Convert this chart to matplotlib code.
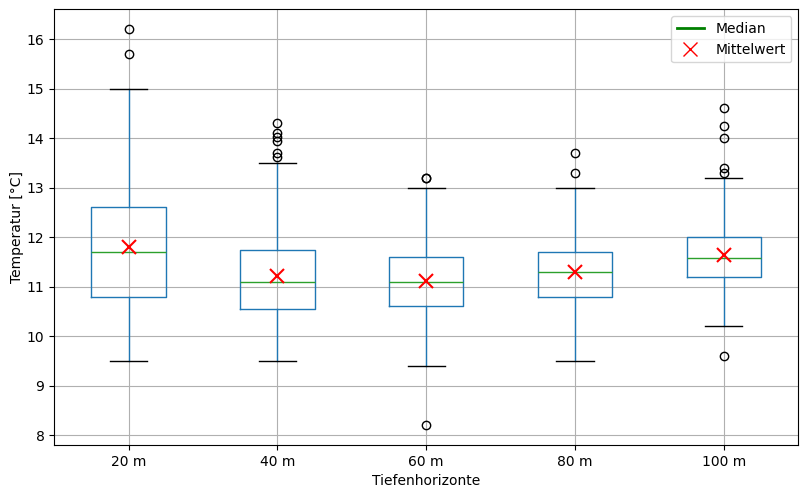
import matplotlib
matplotlib.use("Agg")
import matplotlib.pyplot as plt
from matplotlib.lines import Line2D

# box statistics
labels = ["20 m", "40 m", "60 m", "80 m", "100 m"]
whis_lo = [9.5, 9.5, 9.4, 9.5, 10.2]
q1 = [10.8, 10.55, 10.6, 10.8, 11.2]
medians = [11.7, 11.1, 11.1, 11.3, 11.58]
q3 = [12.6, 11.73, 11.6, 11.7, 12.0]
whis_hi = [15.0, 13.5, 13.0, 13.0, 13.2]
means = [11.8, 11.22, 11.12, 11.3, 11.63]
fliers = [
    [15.7, 16.2],
    [13.62, 13.7, 13.95, 14.03, 14.11, 14.3],
    [8.2, 13.2, 13.2],
    [13.3, 13.7],
    [9.6, 13.3, 13.4, 14.0, 14.25, 14.6],
]

stats = []
for i, lab in enumerate(labels):
    stats.append({
        "label": lab, "whislo": whis_lo[i], "q1": q1[i], "med": medians[i],
        "q3": q3[i], "whishi": whis_hi[i], "fliers": fliers[i], "mean": means[i],
    })

fig, ax = plt.subplots(figsize=(8.08, 4.95), dpi=100)
fig.subplots_adjust(left=0.067, right=0.988, top=0.981, bottom=0.101)

ax.bxp(stats, widths=0.5, showmeans=False,
       boxprops=dict(color="#1f77b4"),
       whiskerprops=dict(color="#1f77b4"),
       capprops=dict(color="black"),
       medianprops=dict(color="#2ca02c"),
       flierprops=dict(marker="o", markeredgecolor="black", markerfacecolor="none"))

positions = range(1, len(labels) + 1)
ax.plot(list(positions), means, linestyle="none", marker="x", color="red",
        markersize=10, markeredgewidth=1.5, zorder=5)

ax.grid(True)
ax.set_axisbelow(True)
ax.set_xlabel("Tiefenhorizonte")
ax.set_ylabel("Temperatur [°C]", labelpad=2)

handles = [
    Line2D([0], [0], color="green", lw=2, label="Median"),
    Line2D([0], [0], color="red", marker="x", linestyle="none", markersize=10, label="Mittelwert"),
]
ax.legend(handles=handles, loc="upper right")

fig.savefig("out.png", dpi=100)
